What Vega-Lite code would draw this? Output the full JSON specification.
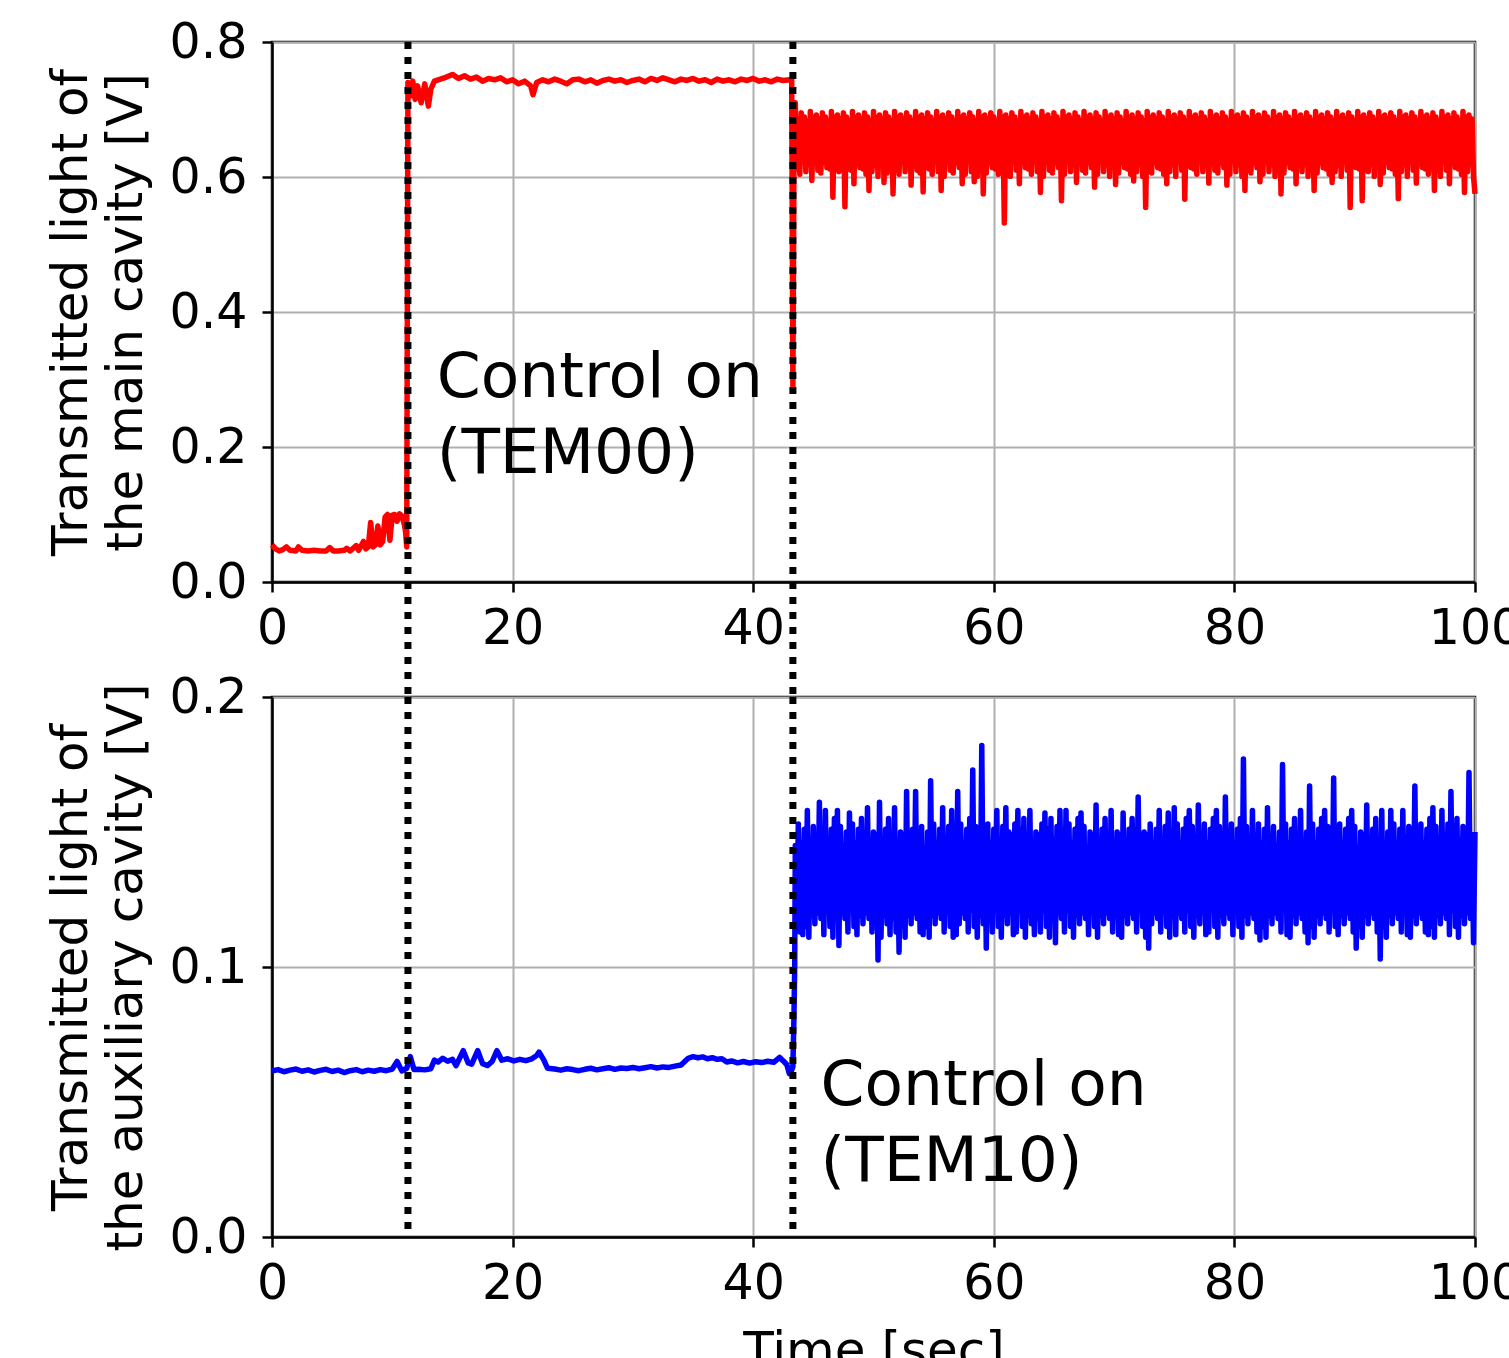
{
"$schema": "https://vega.github.io/schema/vega-lite/v6.json",
"padding": {"left": 44, "top": 16, "right": 0, "bottom": 0},
"bounds": "flush",
"spacing": 115,
"background": "white",
"config": {
"font": "DejaVu Sans",
"view": {"stroke": "black", "strokeWidth": 2.5},
"axis": {"labelFont": "DejaVu Sans", "labelFontSize": 49, "labelColor": "black", "titleFont": "DejaVu Sans", "titleFontSize": 50, "titleFontWeight": "normal", "titleColor": "black", "domainColor": "black", "domainWidth": 2.5, "tickColor": "black", "tickWidth": 2.5, "tickSize": 10, "gridColor": "#b0b0b0", "gridWidth": 2, "labelPadding": 12, "titlePadding": 18, "titleLineHeight": 55},
"axisY": {"labelPadding": 15},
"axisX": {"labelFlush": false}
},
"datasets": {
"events": [{"t": 11.3}, {"t": 43.3}],
"main": [
{"t":0,"v":0.055},{"t":0.3,"v":0.049},{"t":0.6,"v":0.046},{"t":0.9,"v":0.048},{"t":1.2,"v":0.052},{"t":1.5,"v":0.047},{"t":2.0,"v":0.046},{"t":2.2,"v":0.052},{"t":2.5,"v":0.047},{"t":3.0,"v":0.046},{"t":3.5,"v":0.047},{"t":4.0,"v":0.046},{"t":4.5,"v":0.046},{"t":4.8,"v":0.051},{"t":5.1,"v":0.046},{"t":5.5,"v":0.046},{"t":6.0,"v":0.047},{"t":6.2,"v":0.05},{"t":6.5,"v":0.046},{"t":7.0,"v":0.054},{"t":7.2,"v":0.047},{"t":7.6,"v":0.06},{"t":7.8,"v":0.049},{"t":8.0,"v":0.052},{"t":8.2,"v":0.088},{"t":8.4,"v":0.052},{"t":8.6,"v":0.055},{"t":8.8,"v":0.083},{"t":9.0,"v":0.055},{"t":9.2,"v":0.06},{"t":9.4,"v":0.096},{"t":9.6,"v":0.1},{"t":9.8,"v":0.062},{"t":10.0,"v":0.099},{"t":10.2,"v":0.1},{"t":10.4,"v":0.09},{"t":10.6,"v":0.101},{"t":10.8,"v":0.098},{"t":11.0,"v":0.085},{"t":11.1,"v":0.075},{"t":11.2,"v":0.052},{"t":11.3,"v":0.74},
{"t":11.5,"v":0.72},{"t":11.7,"v":0.742},{"t":11.9,"v":0.715},{"t":12.1,"v":0.735},{"t":12.4,"v":0.71},{"t":12.7,"v":0.738},{"t":13.0,"v":0.705},{"t":13.2,"v":0.73},{"t":13.5,"v":0.742},{"t":14.0,"v":0.745},{"t":14.5,"v":0.748},{"t":15.0,"v":0.752},{"t":15.5,"v":0.746},{"t":16.0,"v":0.75},{"t":16.5,"v":0.745},{"t":17.0,"v":0.748},{"t":17.5,"v":0.742},{"t":18.0,"v":0.746},{"t":18.5,"v":0.744},{"t":19.0,"v":0.747},{"t":19.5,"v":0.741},{"t":20.0,"v":0.744},{"t":20.5,"v":0.738},{"t":21.0,"v":0.742},{"t":21.5,"v":0.735},{"t":21.7,"v":0.722},{"t":22.0,"v":0.74},{"t":22.5,"v":0.744},{"t":23.0,"v":0.741},{"t":23.5,"v":0.745},{"t":24.0,"v":0.742},{"t":24.5,"v":0.738},{"t":25.0,"v":0.744},{"t":25.5,"v":0.745},{"t":26.0,"v":0.741},{"t":26.5,"v":0.744},{"t":27.0,"v":0.739},{"t":27.5,"v":0.743},{"t":28.0,"v":0.745},{"t":28.5,"v":0.742},{"t":29.0,"v":0.744},{"t":29.5,"v":0.74},{"t":30.0,"v":0.743},{"t":30.5,"v":0.745},{"t":31.0,"v":0.741},{"t":31.5,"v":0.746},{"t":32.0,"v":0.743},{"t":32.5,"v":0.747},{"t":33.0,"v":0.744},{"t":33.5,"v":0.741},{"t":34.0,"v":0.745},{"t":34.5,"v":0.743},{"t":35.0,"v":0.746},{"t":35.5,"v":0.742},{"t":36.0,"v":0.744},{"t":36.5,"v":0.74},{"t":37.0,"v":0.745},{"t":37.5,"v":0.742},{"t":38.0,"v":0.744},{"t":38.5,"v":0.741},{"t":39.0,"v":0.745},{"t":39.5,"v":0.743},{"t":40.0,"v":0.746},{"t":40.5,"v":0.742},{"t":41.0,"v":0.744},{"t":41.5,"v":0.741},{"t":42.0,"v":0.745},{"t":42.5,"v":0.743},{"t":43.0,"v":0.744},{"t":43.2,"v":0.746},{"t":43.3,"v":0.29},{"t":43.4,"v":0.68},
{"t":43.5,"v":0.71},{"t":43.625,"v":0.612},{"t":43.75,"v":0.686},{"t":43.875,"v":0.604},{"t":44.0,"v":0.695},{"t":44.125,"v":0.625},{"t":44.25,"v":0.689},{"t":44.375,"v":0.608},{"t":44.5,"v":0.683},{"t":44.625,"v":0.618},{"t":44.75,"v":0.697},{"t":44.875,"v":0.595},{"t":45.0,"v":0.688},{"t":45.125,"v":0.631},{"t":45.25,"v":0.692},{"t":45.375,"v":0.61},{"t":45.5,"v":0.686},{"t":45.625,"v":0.606},{"t":45.75,"v":0.695},{"t":45.875,"v":0.621},{"t":46.0,"v":0.689},{"t":46.125,"v":0.614},{"t":46.25,"v":0.683},{"t":46.375,"v":0.612},{"t":46.5,"v":0.697},{"t":46.625,"v":0.57},{"t":46.75,"v":0.688},{"t":46.875,"v":0.625},{"t":47.0,"v":0.692},{"t":47.125,"v":0.608},{"t":47.25,"v":0.686},{"t":47.375,"v":0.618},{"t":47.5,"v":0.695},{"t":47.625,"v":0.556},{"t":47.75,"v":0.689},{"t":47.875,"v":0.631},{"t":48.0,"v":0.683},{"t":48.125,"v":0.61},{"t":48.25,"v":0.697},{"t":48.375,"v":0.59},{"t":48.5,"v":0.688},{"t":48.625,"v":0.621},{"t":48.75,"v":0.692},{"t":48.875,"v":0.614},{"t":49.0,"v":0.686},{"t":49.125,"v":0.612},{"t":49.25,"v":0.695},{"t":49.375,"v":0.604},{"t":49.5,"v":0.689},{"t":49.625,"v":0.58},{"t":49.75,"v":0.683},{"t":49.875,"v":0.608},{"t":50.0,"v":0.697},{"t":50.125,"v":0.618},{"t":50.25,"v":0.688},{"t":50.375,"v":0.601},{"t":50.5,"v":0.692},{"t":50.625,"v":0.631},{"t":50.75,"v":0.686},{"t":50.875,"v":0.592},{"t":51.0,"v":0.695},{"t":51.125,"v":0.606},{"t":51.25,"v":0.689},{"t":51.375,"v":0.621},{"t":51.5,"v":0.683},{"t":51.625,"v":0.575},{"t":51.75,"v":0.697},{"t":51.875,"v":0.612},{"t":52.0,"v":0.688},{"t":52.125,"v":0.604},{"t":52.25,"v":0.692},{"t":52.375,"v":0.625},{"t":52.5,"v":0.686},{"t":52.625,"v":0.608},{"t":52.75,"v":0.695},{"t":52.875,"v":0.618},{"t":53.0,"v":0.689},{"t":53.125,"v":0.588},{"t":53.25,"v":0.683},{"t":53.375,"v":0.631},{"t":53.5,"v":0.697},{"t":53.625,"v":0.61},{"t":53.75,"v":0.688},{"t":53.875,"v":0.606},{"t":54.0,"v":0.692},{"t":54.125,"v":0.578},{"t":54.25,"v":0.686},{"t":54.375,"v":0.614},{"t":54.5,"v":0.695},{"t":54.625,"v":0.612},{"t":54.75,"v":0.689},{"t":54.875,"v":0.604},{"t":55.0,"v":0.683},{"t":55.125,"v":0.625},{"t":55.25,"v":0.697},{"t":55.375,"v":0.608},{"t":55.5,"v":0.688},{"t":55.625,"v":0.58},{"t":55.75,"v":0.692},{"t":55.875,"v":0.601},{"t":56.0,"v":0.686},{"t":56.125,"v":0.631},{"t":56.25,"v":0.695},{"t":56.375,"v":0.61},{"t":56.5,"v":0.689},{"t":56.625,"v":0.606},{"t":56.75,"v":0.683},{"t":56.875,"v":0.621},{"t":57.0,"v":0.697},{"t":57.125,"v":0.614},{"t":57.25,"v":0.688},{"t":57.375,"v":0.59},{"t":57.5,"v":0.692},{"t":57.625,"v":0.604},{"t":57.75,"v":0.686},{"t":57.875,"v":0.625},{"t":58.0,"v":0.695},{"t":58.125,"v":0.608},{"t":58.25,"v":0.689},{"t":58.375,"v":0.593},{"t":58.5,"v":0.683},{"t":58.625,"v":0.601},{"t":58.75,"v":0.697},{"t":58.875,"v":0.631},{"t":59.0,"v":0.688},{"t":59.125,"v":0.575},{"t":59.25,"v":0.692},{"t":59.375,"v":0.606},{"t":59.5,"v":0.686},{"t":59.625,"v":0.621},{"t":59.75,"v":0.695},{"t":59.875,"v":0.614},{"t":60.0,"v":0.689},{"t":60.125,"v":0.612},{"t":60.25,"v":0.683},{"t":60.375,"v":0.604},{"t":60.5,"v":0.697},{"t":60.625,"v":0.625},{"t":60.75,"v":0.688},{"t":60.875,"v":0.532},{"t":61.0,"v":0.692},{"t":61.125,"v":0.618},{"t":61.25,"v":0.686},{"t":61.375,"v":0.601},{"t":61.5,"v":0.695},{"t":61.625,"v":0.631},{"t":61.75,"v":0.689},{"t":61.875,"v":0.61},{"t":62.0,"v":0.683},{"t":62.125,"v":0.59},{"t":62.25,"v":0.697},{"t":62.375,"v":0.621},{"t":62.5,"v":0.688},{"t":62.625,"v":0.614},{"t":62.75,"v":0.692},{"t":62.875,"v":0.612},{"t":63.0,"v":0.686},{"t":63.125,"v":0.604},{"t":63.25,"v":0.695},{"t":63.375,"v":0.625},{"t":63.5,"v":0.689},{"t":63.625,"v":0.608},{"t":63.75,"v":0.683},{"t":63.875,"v":0.577},{"t":64.0,"v":0.697},{"t":64.125,"v":0.601},{"t":64.25,"v":0.688},{"t":64.375,"v":0.631},{"t":64.5,"v":0.692},{"t":64.625,"v":0.61},{"t":64.75,"v":0.686},{"t":64.875,"v":0.606},{"t":65.0,"v":0.695},{"t":65.125,"v":0.621},{"t":65.25,"v":0.689},{"t":65.375,"v":0.614},{"t":65.5,"v":0.683},{"t":65.625,"v":0.565},{"t":65.75,"v":0.697},{"t":65.875,"v":0.604},{"t":66.0,"v":0.688},{"t":66.125,"v":0.625},{"t":66.25,"v":0.692},{"t":66.375,"v":0.608},{"t":66.5,"v":0.686},{"t":66.625,"v":0.618},{"t":66.75,"v":0.695},{"t":66.875,"v":0.592},{"t":67.0,"v":0.689},{"t":67.125,"v":0.631},{"t":67.25,"v":0.683},{"t":67.375,"v":0.61},{"t":67.5,"v":0.697},{"t":67.625,"v":0.606},{"t":67.75,"v":0.688},{"t":67.875,"v":0.621},{"t":68.0,"v":0.692},{"t":68.125,"v":0.614},{"t":68.25,"v":0.686},{"t":68.375,"v":0.585},{"t":68.5,"v":0.695},{"t":68.625,"v":0.604},{"t":68.75,"v":0.689},{"t":68.875,"v":0.625},{"t":69.0,"v":0.683},{"t":69.125,"v":0.608},{"t":69.25,"v":0.697},{"t":69.375,"v":0.618},{"t":69.5,"v":0.688},{"t":69.625,"v":0.601},{"t":69.75,"v":0.692},{"t":69.875,"v":0.631},{"t":70.0,"v":0.686},{"t":70.125,"v":0.589},{"t":70.25,"v":0.695},{"t":70.375,"v":0.606},{"t":70.5,"v":0.689},{"t":70.625,"v":0.621},{"t":70.75,"v":0.683},{"t":70.875,"v":0.614},{"t":71.0,"v":0.697},{"t":71.125,"v":0.612},{"t":71.25,"v":0.688},{"t":71.375,"v":0.604},{"t":71.5,"v":0.692},{"t":71.625,"v":0.594},{"t":71.75,"v":0.686},{"t":71.875,"v":0.608},{"t":72.0,"v":0.695},{"t":72.125,"v":0.618},{"t":72.25,"v":0.689},{"t":72.375,"v":0.601},{"t":72.5,"v":0.683},{"t":72.625,"v":0.555},{"t":72.75,"v":0.697},{"t":72.875,"v":0.61},{"t":73.0,"v":0.688},{"t":73.125,"v":0.606},{"t":73.25,"v":0.692},{"t":73.375,"v":0.621},{"t":73.5,"v":0.686},{"t":73.625,"v":0.614},{"t":73.75,"v":0.695},{"t":73.875,"v":0.612},{"t":74.0,"v":0.689},{"t":74.125,"v":0.604},{"t":74.25,"v":0.683},{"t":74.375,"v":0.59},{"t":74.5,"v":0.697},{"t":74.625,"v":0.608},{"t":74.75,"v":0.688},{"t":74.875,"v":0.618},{"t":75.0,"v":0.692},{"t":75.125,"v":0.601},{"t":75.25,"v":0.686},{"t":75.375,"v":0.631},{"t":75.5,"v":0.695},{"t":75.625,"v":0.61},{"t":75.75,"v":0.689},{"t":75.875,"v":0.567},{"t":76.0,"v":0.683},{"t":76.125,"v":0.621},{"t":76.25,"v":0.697},{"t":76.375,"v":0.614},{"t":76.5,"v":0.688},{"t":76.625,"v":0.612},{"t":76.75,"v":0.692},{"t":76.875,"v":0.604},{"t":77.0,"v":0.686},{"t":77.125,"v":0.625},{"t":77.25,"v":0.695},{"t":77.375,"v":0.608},{"t":77.5,"v":0.689},{"t":77.625,"v":0.618},{"t":77.75,"v":0.683},{"t":77.875,"v":0.591},{"t":78.0,"v":0.697},{"t":78.125,"v":0.631},{"t":78.25,"v":0.688},{"t":78.375,"v":0.61},{"t":78.5,"v":0.692},{"t":78.625,"v":0.606},{"t":78.75,"v":0.686},{"t":78.875,"v":0.621},{"t":79.0,"v":0.695},{"t":79.125,"v":0.614},{"t":79.25,"v":0.689},{"t":79.375,"v":0.588},{"t":79.5,"v":0.683},{"t":79.625,"v":0.604},{"t":79.75,"v":0.697},{"t":79.875,"v":0.625},{"t":80.0,"v":0.688},{"t":80.125,"v":0.608},{"t":80.25,"v":0.692},{"t":80.375,"v":0.618},{"t":80.5,"v":0.686},{"t":80.625,"v":0.601},{"t":80.75,"v":0.695},{"t":80.875,"v":0.58},{"t":81.0,"v":0.689},{"t":81.125,"v":0.61},{"t":81.25,"v":0.683},{"t":81.375,"v":0.606},{"t":81.5,"v":0.697},{"t":81.625,"v":0.621},{"t":81.75,"v":0.688},{"t":81.875,"v":0.614},{"t":82.0,"v":0.692},{"t":82.125,"v":0.593},{"t":82.25,"v":0.686},{"t":82.375,"v":0.604},{"t":82.5,"v":0.695},{"t":82.625,"v":0.625},{"t":82.75,"v":0.689},{"t":82.875,"v":0.608},{"t":83.0,"v":0.683},{"t":83.125,"v":0.618},{"t":83.25,"v":0.697},{"t":83.375,"v":0.601},{"t":83.5,"v":0.688},{"t":83.625,"v":0.631},{"t":83.75,"v":0.692},{"t":83.875,"v":0.575},{"t":84.0,"v":0.686},{"t":84.125,"v":0.606},{"t":84.25,"v":0.695},{"t":84.375,"v":0.621},{"t":84.5,"v":0.689},{"t":84.625,"v":0.614},{"t":84.75,"v":0.683},{"t":84.875,"v":0.612},{"t":85.0,"v":0.697},{"t":85.125,"v":0.59},{"t":85.25,"v":0.688},{"t":85.375,"v":0.625},{"t":85.5,"v":0.692},{"t":85.625,"v":0.608},{"t":85.75,"v":0.686},{"t":85.875,"v":0.618},{"t":86.0,"v":0.695},{"t":86.125,"v":0.601},{"t":86.25,"v":0.689},{"t":86.375,"v":0.631},{"t":86.5,"v":0.683},{"t":86.625,"v":0.58},{"t":86.75,"v":0.697},{"t":86.875,"v":0.606},{"t":87.0,"v":0.688},{"t":87.125,"v":0.621},{"t":87.25,"v":0.692},{"t":87.375,"v":0.614},{"t":87.5,"v":0.686},{"t":87.625,"v":0.612},{"t":87.75,"v":0.695},{"t":87.875,"v":0.604},{"t":88.0,"v":0.689},{"t":88.125,"v":0.592},{"t":88.25,"v":0.683},{"t":88.375,"v":0.608},{"t":88.5,"v":0.697},{"t":88.625,"v":0.618},{"t":88.75,"v":0.688},{"t":88.875,"v":0.601},{"t":89.0,"v":0.692},{"t":89.125,"v":0.631},{"t":89.25,"v":0.686},{"t":89.375,"v":0.61},{"t":89.5,"v":0.695},{"t":89.625,"v":0.555},{"t":89.75,"v":0.689},{"t":89.875,"v":0.621},{"t":90.0,"v":0.683},{"t":90.125,"v":0.614},{"t":90.25,"v":0.697},{"t":90.375,"v":0.612},{"t":90.5,"v":0.688},{"t":90.625,"v":0.565},{"t":90.75,"v":0.692},{"t":90.875,"v":0.625},{"t":91.0,"v":0.686},{"t":91.125,"v":0.608},{"t":91.25,"v":0.695},{"t":91.375,"v":0.618},{"t":91.5,"v":0.689},{"t":91.625,"v":0.601},{"t":91.75,"v":0.683},{"t":91.875,"v":0.631},{"t":92.0,"v":0.697},{"t":92.125,"v":0.589},{"t":92.25,"v":0.688},{"t":92.375,"v":0.606},{"t":92.5,"v":0.692},{"t":92.625,"v":0.621},{"t":92.75,"v":0.686},{"t":92.875,"v":0.614},{"t":93.0,"v":0.695},{"t":93.125,"v":0.612},{"t":93.25,"v":0.689},{"t":93.375,"v":0.604},{"t":93.5,"v":0.683},{"t":93.625,"v":0.568},{"t":93.75,"v":0.697},{"t":93.875,"v":0.608},{"t":94.0,"v":0.688},{"t":94.125,"v":0.618},{"t":94.25,"v":0.692},{"t":94.375,"v":0.601},{"t":94.5,"v":0.686},{"t":94.625,"v":0.631},{"t":94.75,"v":0.695},{"t":94.875,"v":0.61},{"t":95.0,"v":0.689},{"t":95.125,"v":0.591},{"t":95.25,"v":0.683},{"t":95.375,"v":0.621},{"t":95.5,"v":0.697},{"t":95.625,"v":0.614},{"t":95.75,"v":0.688},{"t":95.875,"v":0.612},{"t":96.0,"v":0.692},{"t":96.125,"v":0.604},{"t":96.25,"v":0.686},{"t":96.375,"v":0.625},{"t":96.5,"v":0.695},{"t":96.625,"v":0.58},{"t":96.75,"v":0.689},{"t":96.875,"v":0.618},{"t":97.0,"v":0.683},{"t":97.125,"v":0.601},{"t":97.25,"v":0.697},{"t":97.375,"v":0.631},{"t":97.5,"v":0.688},{"t":97.625,"v":0.61},{"t":97.75,"v":0.692},{"t":97.875,"v":0.59},{"t":98.0,"v":0.686},{"t":98.125,"v":0.621},{"t":98.25,"v":0.695},{"t":98.375,"v":0.614},{"t":98.5,"v":0.689},{"t":98.625,"v":0.612},{"t":98.75,"v":0.683},{"t":98.875,"v":0.604},{"t":99.0,"v":0.697},{"t":99.125,"v":0.577},{"t":99.25,"v":0.688},{"t":99.375,"v":0.608},{"t":99.5,"v":0.692},{"t":99.625,"v":0.618},{"t":99.75,"v":0.686},{"t":99.875,"v":0.601},{"t":100.0,"v":0.575}
],
"aux": [
{"t":0,"v":0.0615},{"t":0.5,"v":0.062},{"t":1.0,"v":0.0612},{"t":1.5,"v":0.0618},{"t":2.0,"v":0.0622},{"t":2.5,"v":0.0614},{"t":3.0,"v":0.0619},{"t":3.5,"v":0.0611},{"t":4.0,"v":0.0617},{"t":4.5,"v":0.0621},{"t":5.0,"v":0.0613},{"t":5.5,"v":0.0618},{"t":6.0,"v":0.0609},{"t":6.5,"v":0.0616},{"t":7.0,"v":0.062},{"t":7.5,"v":0.0612},{"t":8.0,"v":0.0618},{"t":8.5,"v":0.0614},{"t":9.0,"v":0.062},{"t":9.5,"v":0.0616},{"t":10.0,"v":0.0622},{"t":10.4,"v":0.065},{"t":10.8,"v":0.0615},{"t":11.2,"v":0.0625},{"t":11.5,"v":0.0668},{"t":11.8,"v":0.062},{"t":12.2,"v":0.0621},{"t":12.7,"v":0.0619},{"t":13.2,"v":0.0623},{"t":13.5,"v":0.0655},{"t":13.8,"v":0.0648},{"t":14.2,"v":0.0662},{"t":14.6,"v":0.0651},{"t":15.0,"v":0.0658},{"t":15.3,"v":0.0635},{"t":15.9,"v":0.069},{"t":16.3,"v":0.0645},{"t":16.6,"v":0.064},{"t":17.1,"v":0.069},{"t":17.5,"v":0.0642},{"t":17.9,"v":0.0635},{"t":18.3,"v":0.065},{"t":18.7,"v":0.069},{"t":19.1,"v":0.0655},{"t":19.6,"v":0.066},{"t":20.1,"v":0.0652},{"t":20.6,"v":0.0658},{"t":21.1,"v":0.0653},{"t":21.6,"v":0.066},{"t":22.0,"v":0.0672},{"t":22.2,"v":0.0685},{"t":22.6,"v":0.0655},{"t":22.9,"v":0.0625},{"t":23.5,"v":0.0622},{"t":24.0,"v":0.0618},{"t":24.5,"v":0.0623},{"t":25.0,"v":0.062},{"t":25.5,"v":0.0616},{"t":26.0,"v":0.0621},{"t":26.5,"v":0.0625},{"t":27.0,"v":0.0619},{"t":27.5,"v":0.0623},{"t":28.0,"v":0.0627},{"t":28.5,"v":0.0621},{"t":29.0,"v":0.0626},{"t":29.5,"v":0.0624},{"t":30.0,"v":0.0628},{"t":30.5,"v":0.0623},{"t":31.0,"v":0.0627},{"t":31.5,"v":0.0631},{"t":32.0,"v":0.0626},{"t":32.5,"v":0.063},{"t":33.0,"v":0.0628},{"t":33.5,"v":0.0633},{"t":34.0,"v":0.0637},{"t":34.6,"v":0.0662},{"t":35.0,"v":0.0668},{"t":35.4,"v":0.0664},{"t":35.8,"v":0.0667},{"t":36.2,"v":0.066},{"t":36.6,"v":0.0664},{"t":37.0,"v":0.0658},{"t":37.4,"v":0.066},{"t":37.8,"v":0.0648},{"t":38.2,"v":0.0652},{"t":38.7,"v":0.0645},{"t":39.2,"v":0.065},{"t":39.7,"v":0.0644},{"t":40.2,"v":0.0649},{"t":40.7,"v":0.0646},{"t":41.2,"v":0.0651},{"t":41.7,"v":0.0647},{"t":42.2,"v":0.0665},{"t":42.5,"v":0.0652},{"t":42.8,"v":0.0638},{"t":43.0,"v":0.0605},{"t":43.2,"v":0.0618},{"t":43.3,"v":0.063},{"t":43.38,"v":0.08},{"t":43.45,"v":0.1},
{"t":43.5,"v":0.145},{"t":43.625,"v":0.118},{"t":43.75,"v":0.153},{"t":43.875,"v":0.113},{"t":44.0,"v":0.146},{"t":44.125,"v":0.112},{"t":44.25,"v":0.151},{"t":44.375,"v":0.115},{"t":44.5,"v":0.158},{"t":44.625,"v":0.111},{"t":44.75,"v":0.147},{"t":44.875,"v":0.119},{"t":45.0,"v":0.152},{"t":45.125,"v":0.116},{"t":45.25,"v":0.144},{"t":45.375,"v":0.12},{"t":45.5,"v":0.161},{"t":45.625,"v":0.118},{"t":45.75,"v":0.149},{"t":45.875,"v":0.112},{"t":46.0,"v":0.158},{"t":46.125,"v":0.121},{"t":46.25,"v":0.146},{"t":46.375,"v":0.115},{"t":46.5,"v":0.151},{"t":46.625,"v":0.111},{"t":46.75,"v":0.155},{"t":46.875,"v":0.119},{"t":47.0,"v":0.158},{"t":47.125,"v":0.108},{"t":47.25,"v":0.152},{"t":47.375,"v":0.12},{"t":47.5,"v":0.144},{"t":47.625,"v":0.118},{"t":47.75,"v":0.15},{"t":47.875,"v":0.113},{"t":48.0,"v":0.157},{"t":48.125,"v":0.121},{"t":48.25,"v":0.153},{"t":48.375,"v":0.115},{"t":48.5,"v":0.146},{"t":48.625,"v":0.112},{"t":48.75,"v":0.151},{"t":48.875,"v":0.119},{"t":49.0,"v":0.155},{"t":49.125,"v":0.116},{"t":49.25,"v":0.147},{"t":49.375,"v":0.12},{"t":49.5,"v":0.159},{"t":49.625,"v":0.118},{"t":49.75,"v":0.144},{"t":49.875,"v":0.113},{"t":50.0,"v":0.15},{"t":50.125,"v":0.121},{"t":50.25,"v":0.149},{"t":50.375,"v":0.1026},{"t":50.5,"v":0.161},{"t":50.625,"v":0.111},{"t":50.75,"v":0.146},{"t":50.875,"v":0.119},{"t":51.0,"v":0.151},{"t":51.125,"v":0.116},{"t":51.25,"v":0.155},{"t":51.375,"v":0.112},{"t":51.5,"v":0.147},{"t":51.625,"v":0.118},{"t":51.75,"v":0.159},{"t":51.875,"v":0.113},{"t":52.0,"v":0.144},{"t":52.125,"v":0.1055},{"t":52.25,"v":0.15},{"t":52.375,"v":0.115},{"t":52.5,"v":0.149},{"t":52.625,"v":0.111},{"t":52.75,"v":0.165},{"t":52.875,"v":0.119},{"t":53.0,"v":0.146},{"t":53.125,"v":0.116},{"t":53.25,"v":0.151},{"t":53.375,"v":0.12},{"t":53.5,"v":0.165},{"t":53.625,"v":0.118},{"t":53.75,"v":0.147},{"t":53.875,"v":0.113},{"t":54.0,"v":0.152},{"t":54.125,"v":0.112},{"t":54.25,"v":0.144},{"t":54.375,"v":0.115},{"t":54.5,"v":0.15},{"t":54.625,"v":0.111},{"t":54.75,"v":0.169},{"t":54.875,"v":0.119},{"t":55.0,"v":0.153},{"t":55.125,"v":0.116},{"t":55.25,"v":0.146},{"t":55.375,"v":0.12},{"t":55.5,"v":0.151},{"t":55.625,"v":0.118},{"t":55.75,"v":0.159},{"t":55.875,"v":0.113},{"t":56.0,"v":0.147},{"t":56.125,"v":0.121},{"t":56.25,"v":0.152},{"t":56.375,"v":0.115},{"t":56.5,"v":0.158},{"t":56.625,"v":0.111},{"t":56.75,"v":0.15},{"t":56.875,"v":0.112},{"t":57.0,"v":0.165},{"t":57.125,"v":0.116},{"t":57.25,"v":0.153},{"t":57.375,"v":0.12},{"t":57.5,"v":0.146},{"t":57.625,"v":0.118},{"t":57.75,"v":0.151},{"t":57.875,"v":0.113},{"t":58.0,"v":0.155},{"t":58.125,"v":0.121},{"t":58.25,"v":0.173},{"t":58.375,"v":0.115},{"t":58.5,"v":0.152},{"t":58.625,"v":0.111},{"t":58.75,"v":0.144},{"t":58.875,"v":0.119},{"t":59.0,"v":0.182},{"t":59.125,"v":0.116},{"t":59.25,"v":0.149},{"t":59.375,"v":0.107},{"t":59.5,"v":0.153},{"t":59.625,"v":0.118},{"t":59.75,"v":0.146},{"t":59.875,"v":0.113},{"t":60.0,"v":0.151},{"t":60.125,"v":0.121},{"t":60.25,"v":0.158},{"t":60.375,"v":0.115},{"t":60.5,"v":0.147},{"t":60.625,"v":0.111},{"t":60.75,"v":0.152},{"t":60.875,"v":0.119},{"t":61.0,"v":0.159},{"t":61.125,"v":0.116},{"t":61.25,"v":0.15},{"t":61.375,"v":0.12},{"t":61.5,"v":0.149},{"t":61.625,"v":0.112},{"t":61.75,"v":0.153},{"t":61.875,"v":0.113},{"t":62.0,"v":0.158},{"t":62.125,"v":0.121},{"t":62.25,"v":0.151},{"t":62.375,"v":0.115},{"t":62.5,"v":0.155},{"t":62.625,"v":0.111},{"t":62.75,"v":0.147},{"t":62.875,"v":0.119},{"t":63.0,"v":0.158},{"t":63.125,"v":0.116},{"t":63.25,"v":0.144},{"t":63.375,"v":0.112},{"t":63.5,"v":0.15},{"t":63.625,"v":0.118},{"t":63.75,"v":0.149},{"t":63.875,"v":0.113},{"t":64.0,"v":0.153},{"t":64.125,"v":0.121},{"t":64.25,"v":0.157},{"t":64.375,"v":0.115},{"t":64.5,"v":0.151},{"t":64.625,"v":0.111},{"t":64.75,"v":0.155},{"t":64.875,"v":0.119},{"t":65.0,"v":0.147},{"t":65.125,"v":0.109},{"t":65.25,"v":0.152},{"t":65.375,"v":0.12},{"t":65.5,"v":0.158},{"t":65.625,"v":0.118},{"t":65.75,"v":0.15},{"t":65.875,"v":0.113},{"t":66.0,"v":0.158},{"t":66.125,"v":0.121},{"t":66.25,"v":0.153},{"t":66.375,"v":0.115},{"t":66.5,"v":0.146},{"t":66.625,"v":0.111},{"t":66.75,"v":0.151},{"t":66.875,"v":0.119},{"t":67.0,"v":0.155},{"t":67.125,"v":0.116},{"t":67.25,"v":0.157},{"t":67.375,"v":0.12},{"t":67.5,"v":0.152},{"t":67.625,"v":0.118},{"t":67.75,"v":0.144},{"t":67.875,"v":0.112},{"t":68.0,"v":0.15},{"t":68.125,"v":0.121},{"t":68.25,"v":0.149},{"t":68.375,"v":0.115},{"t":68.5,"v":0.16},{"t":68.625,"v":0.111},{"t":68.75,"v":0.146},{"t":68.875,"v":0.119},{"t":69.0,"v":0.151},{"t":69.125,"v":0.116},{"t":69.25,"v":0.155},{"t":69.375,"v":0.12},{"t":69.5,"v":0.147},{"t":69.625,"v":0.118},{"t":69.75,"v":0.158},{"t":69.875,"v":0.113},{"t":70.0,"v":0.144},{"t":70.125,"v":0.121},{"t":70.25,"v":0.15},{"t":70.375,"v":0.112},{"t":70.5,"v":0.149},{"t":70.625,"v":0.111},{"t":70.75,"v":0.157},{"t":70.875,"v":0.119},{"t":71.0,"v":0.146},{"t":71.125,"v":0.116},{"t":71.25,"v":0.151},{"t":71.375,"v":0.12},{"t":71.5,"v":0.155},{"t":71.625,"v":0.118},{"t":71.75,"v":0.147},{"t":71.875,"v":0.113},{"t":72.0,"v":0.163},{"t":72.125,"v":0.121},{"t":72.25,"v":0.144},{"t":72.375,"v":0.115},{"t":72.5,"v":0.15},{"t":72.625,"v":0.111},{"t":72.75,"v":0.149},{"t":72.875,"v":0.107},{"t":73.0,"v":0.153},{"t":73.125,"v":0.116},{"t":73.25,"v":0.146},{"t":73.375,"v":0.12},{"t":73.5,"v":0.151},{"t":73.625,"v":0.118},{"t":73.75,"v":0.158},{"t":73.875,"v":0.113},{"t":74.0,"v":0.147},{"t":74.125,"v":0.121},{"t":74.25,"v":0.152},{"t":74.375,"v":0.115},{"t":74.5,"v":0.157},{"t":74.625,"v":0.111},{"t":74.75,"v":0.15},{"t":74.875,"v":0.119},{"t":75.0,"v":0.159},{"t":75.125,"v":0.112},{"t":75.25,"v":0.153},{"t":75.375,"v":0.12},{"t":75.5,"v":0.146},{"t":75.625,"v":0.118},{"t":75.75,"v":0.151},{"t":75.875,"v":0.113},{"t":76.0,"v":0.155},{"t":76.125,"v":0.121},{"t":76.25,"v":0.158},{"t":76.375,"v":0.115},{"t":76.5,"v":0.152},{"t":76.625,"v":0.111},{"t":76.75,"v":0.144},{"t":76.875,"v":0.119},{"t":77.0,"v":0.16},{"t":77.125,"v":0.116},{"t":77.25,"v":0.149},{"t":77.375,"v":0.12},{"t":77.5,"v":0.153},{"t":77.625,"v":0.112},{"t":77.75,"v":0.146},{"t":77.875,"v":0.113},{"t":78.0,"v":0.151},{"t":78.125,"v":0.121},{"t":78.25,"v":0.155},{"t":78.375,"v":0.115},{"t":78.5,"v":0.158},{"t":78.625,"v":0.111},{"t":78.75,"v":0.152},{"t":78.875,"v":0.119},{"t":79.0,"v":0.144},{"t":79.125,"v":0.116},{"t":79.25,"v":0.163},{"t":79.375,"v":0.12},{"t":79.5,"v":0.149},{"t":79.625,"v":0.118},{"t":79.75,"v":0.153},{"t":79.875,"v":0.112},{"t":80.0,"v":0.146},{"t":80.125,"v":0.121},{"t":80.25,"v":0.151},{"t":80.375,"v":0.115},{"t":80.5,"v":0.155},{"t":80.625,"v":0.111},{"t":80.75,"v":0.177},{"t":80.875,"v":0.119},{"t":81.0,"v":0.152},{"t":81.125,"v":0.116},{"t":81.25,"v":0.144},{"t":81.375,"v":0.12},{"t":81.5,"v":0.158},{"t":81.625,"v":0.118},{"t":81.75,"v":0.149},{"t":81.875,"v":0.113},{"t":82.0,"v":0.153},{"t":82.125,"v":0.11},{"t":82.25,"v":0.146},{"t":82.375,"v":0.115},{"t":82.5,"v":0.151},{"t":82.625,"v":0.111},{"t":82.75,"v":0.159},{"t":82.875,"v":0.119},{"t":83.0,"v":0.147},{"t":83.125,"v":0.116},{"t":83.25,"v":0.152},{"t":83.375,"v":0.12},{"t":83.5,"v":0.144},{"t":83.625,"v":0.118},{"t":83.75,"v":0.15},{"t":83.875,"v":0.113},{"t":84.0,"v":0.175},{"t":84.125,"v":0.121},{"t":84.25,"v":0.153},{"t":84.375,"v":0.112},{"t":84.5,"v":0.146},{"t":84.625,"v":0.111},{"t":84.75,"v":0.151},{"t":84.875,"v":0.119},{"t":85.0,"v":0.155},{"t":85.125,"v":0.116},{"t":85.25,"v":0.147},{"t":85.375,"v":0.12},{"t":85.5,"v":0.158},{"t":85.625,"v":0.118},{"t":85.75,"v":0.144},{"t":85.875,"v":0.113},{"t":86.0,"v":0.15},{"t":86.125,"v":0.109},{"t":86.25,"v":0.167},{"t":86.375,"v":0.115},{"t":86.5,"v":0.153},{"t":86.625,"v":0.111},{"t":86.75,"v":0.146},{"t":86.875,"v":0.119},{"t":87.0,"v":0.151},{"t":87.125,"v":0.116},{"t":87.25,"v":0.155},{"t":87.375,"v":0.12},{"t":87.5,"v":0.158},{"t":87.625,"v":0.118},{"t":87.75,"v":0.152},{"t":87.875,"v":0.113},{"t":88.0,"v":0.144},{"t":88.125,"v":0.121},{"t":88.25,"v":0.17},{"t":88.375,"v":0.115},{"t":88.5,"v":0.149},{"t":88.625,"v":0.112},{"t":88.75,"v":0.153},{"t":88.875,"v":0.119},{"t":89.0,"v":0.146},{"t":89.125,"v":0.116},{"t":89.25,"v":0.151},{"t":89.375,"v":0.12},{"t":89.5,"v":0.155},{"t":89.625,"v":0.118},{"t":89.75,"v":0.158},{"t":89.875,"v":0.113},{"t":90.0,"v":0.152},{"t":90.125,"v":0.107},{"t":90.25,"v":0.144},{"t":90.375,"v":0.115},{"t":90.5,"v":0.15},{"t":90.625,"v":0.111},{"t":90.75,"v":0.149},{"t":90.875,"v":0.119},{"t":91.0,"v":0.16},{"t":91.125,"v":0.116},{"t":91.25,"v":0.146},{"t":91.375,"v":0.12},{"t":91.5,"v":0.151},{"t":91.625,"v":0.118},{"t":91.75,"v":0.155},{"t":91.875,"v":0.113},{"t":92.0,"v":0.147},{"t":92.125,"v":0.103},{"t":92.25,"v":0.158},{"t":92.375,"v":0.115},{"t":92.5,"v":0.144},{"t":92.625,"v":0.111},{"t":92.75,"v":0.15},{"t":92.875,"v":0.119},{"t":93.0,"v":0.158},{"t":93.125,"v":0.116},{"t":93.25,"v":0.153},{"t":93.375,"v":0.12},{"t":93.5,"v":0.146},{"t":93.625,"v":0.118},{"t":93.75,"v":0.151},{"t":93.875,"v":0.113},{"t":94.0,"v":0.158},{"t":94.125,"v":0.121},{"t":94.25,"v":0.147},{"t":94.375,"v":0.112},{"t":94.5,"v":0.152},{"t":94.625,"v":0.111},{"t":94.75,"v":0.144},{"t":94.875,"v":0.119},{"t":95.0,"v":0.167},{"t":95.125,"v":0.116},{"t":95.25,"v":0.149},{"t":95.375,"v":0.12},{"t":95.5,"v":0.153},{"t":95.625,"v":0.118},{"t":95.75,"v":0.146},{"t":95.875,"v":0.113},{"t":96.0,"v":0.151},{"t":96.125,"v":0.112},{"t":96.25,"v":0.155},{"t":96.375,"v":0.115},{"t":96.5,"v":0.159},{"t":96.625,"v":0.111},{"t":96.75,"v":0.152},{"t":96.875,"v":0.119},{"t":97.0,"v":0.144},{"t":97.125,"v":0.116},{"t":97.25,"v":0.158},{"t":97.375,"v":0.12},{"t":97.5,"v":0.149},{"t":97.625,"v":0.118},{"t":97.75,"v":0.153},{"t":97.875,"v":0.112},{"t":98.0,"v":0.165},{"t":98.125,"v":0.121},{"t":98.25,"v":0.151},{"t":98.375,"v":0.115},{"t":98.5,"v":0.155},{"t":98.625,"v":0.111},{"t":98.75,"v":0.147},{"t":98.875,"v":0.119},{"t":99.0,"v":0.152},{"t":99.125,"v":0.116},{"t":99.25,"v":0.144},{"t":99.375,"v":0.12},{"t":99.5,"v":0.172},{"t":99.625,"v":0.118},{"t":99.75,"v":0.149},{"t":99.875,"v":0.109},{"t":100.0,"v":0.15}
]
},
"vconcat": [
{
"width": 1203, "height": 540,
"layer": [
{"data": {"name": "main"}, "mark": {"type": "line", "color": "#ff0000", "strokeWidth": 5.5, "strokeJoin": "round"},
 "encoding": {
  "x": {"field": "t", "type": "quantitative", "scale": {"domain": [0, 100], "nice": false}, "axis": {"values": [0, 20, 40, 60, 80, 100], "format": "d", "title": null}},
  "y": {"field": "v", "type": "quantitative", "scale": {"domain": [0, 0.8], "nice": false}, "axis": {"values": [0, 0.2, 0.4, 0.6, 0.8], "format": ".1f", "title": ["Transmitted light of", "the main cavity [V]"]}}
 }},
{"data": {"name": "events"}, "mark": {"type": "rule", "color": "black", "strokeWidth": 7, "strokeDash": [7, 8], "clip": false},
 "encoding": {"x": {"field": "t", "type": "quantitative"}, "y": {"datum": 0.8}, "y2": {"datum": -0.1704}}},
{"data": {"values": [{"t": 13.7, "v": 0.274, "label": "Control on\n(TEM00)"}]}, "mark": {"type": "text", "align": "left", "baseline": "alphabetic", "fontSize": 63, "lineBreak": "\n", "lineHeight": 76, "color": "black", "font": "DejaVu Sans"},
 "encoding": {"x": {"field": "t", "type": "quantitative"}, "y": {"field": "v", "type": "quantitative"}, "text": {"field": "label"}}}
]
},
{
"width": 1203, "height": 540,
"layer": [
{"data": {"name": "aux"}, "mark": {"type": "line", "color": "#0000ff", "strokeWidth": 5.5, "strokeJoin": "round"},
 "encoding": {
  "x": {"field": "t", "type": "quantitative", "scale": {"domain": [0, 100], "nice": false}, "axis": {"values": [0, 20, 40, 60, 80, 100], "format": "d", "title": "Time [sec]", "titlePadding": 18}},
  "y": {"field": "v", "type": "quantitative", "scale": {"domain": [0, 0.2], "nice": false}, "axis": {"values": [0, 0.1, 0.2], "format": ".1f", "title": ["Transmitted light of", "the auxiliary cavity [V]"]}}
 }},
{"data": {"name": "events"}, "mark": {"type": "rule", "color": "black", "strokeWidth": 7, "strokeDash": [7, 8], "clip": false},
 "encoding": {"x": {"field": "t", "type": "quantitative"}, "y": {"datum": 0.2}, "y2": {"datum": 0}}},
{"data": {"values": [{"t": 45.6, "v": 0.0489, "label": "Control on\n(TEM10)"}]}, "mark": {"type": "text", "align": "left", "baseline": "alphabetic", "fontSize": 63, "lineBreak": "\n", "lineHeight": 76, "color": "black", "font": "DejaVu Sans"},
 "encoding": {"x": {"field": "t", "type": "quantitative"}, "y": {"field": "v", "type": "quantitative"}, "text": {"field": "label"}}}
]
}
]
}
